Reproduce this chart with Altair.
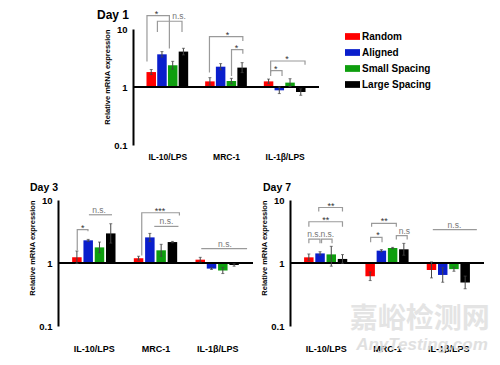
import json
import altair as alt
import pandas as pd

FONT = "Liberation Sans"

categories = ["IL-10/LPS", "MRC-1", "IL-1β/LPS"]
groups = ["Random", "Aligned", "Small Spacing", "Large Spacing"]
colors = ["#FF0000", "#0A1ECC", "#0E9E0E", "#000000"]

# values per category (rows) and group (columns)
day1_mean = [[1.81, 3.66, 2.37, 4.08], [1.25, 2.24, 1.27, 2.16], [1.25, 0.877, 1.19, 0.82]]
day1_lo = [[1.64, 3.28, 2.03, 3.58], [1.08, 1.98, 1.14, 1.77], [1.14, 0.77, 1.02, 0.72]]
day1_hi = [[2.00, 4.08, 2.77, 4.65], [1.45, 2.53, 1.41, 2.63], [1.37, 1.00, 1.39, 0.93]]

day3_mean = [[1.23, 2.29, 1.77, 2.95], [1.19, 2.55, 1.59, 2.15], [1.13, 0.815, 0.76, 0.93]]
day3_lo = [[0.98, 2.21, 1.46, 2.07], [1.11, 2.20, 1.28, 2.10], [1.04, 0.79, 0.68, 0.89]]
day3_hi = [[1.55, 2.37, 2.15, 4.20], [1.28, 2.95, 1.98, 2.20], [1.23, 0.84, 0.85, 0.97]]

day7_mean = [[1.23, 1.42, 1.37, 1.16], [0.616, 1.57, 1.73, 1.65], [0.775, 0.646, 0.80, 0.49]]
day7_lo = [[1.09, 1.34, 0.89, 0.99], [0.526, 1.51, 1.69, 1.33], [0.58, 0.495, 0.74, 0.39]]
day7_hi = [[1.39, 1.51, 1.84, 1.36], [0.72, 1.63, 1.77, 2.05], [1.04, 0.84, 0.86, 0.62]]

# significance brackets: (x left, x right, top, left leg end, right leg end, label, label x)
day1_brackets = [
    (-0.347, 0.035, 17.0, 2.74, 4.59, "*", -0.185),
    (-0.169, 0.25, 13.6, 8.9, 8.9, "n.s.", 0.2),
    (0.718, 1.287, 7.4, 1.77, 6.2, "*", 1.024),
    (1.094, 1.287, 4.41, 1.55, 3.76, "*", 1.18),
    (1.761, 2.347, 2.81, 1.77, 2.43, "*", 2.04),
    (1.761, 1.955, 1.92, 1.55, 1.55, "*", 1.85),
]
day3_brackets = [
    (-0.269, -0.095, 3.38, 1.59, 3.2, "*", -0.18),
    (-0.08, 0.295, 5.83, 5.83, 5.83, "n.s.", 0.085),
    (0.777, 1.388, 6.27, 1.32, 5.69, "***", 1.074),
    (0.98, 1.372, 3.81, 3.81, 3.81, "n.s.", 1.177),
    (1.742, 2.485, 1.69, 1.69, 1.69, "n.s.", 2.126),
]
day7_brackets = [
    (-0.113, 0.274, 7.6, 6.58, 6.58, "**", 0.088),
    (-0.274, 0.274, 4.52, 3.77, 3.77, "**", 0.0),
    (-0.274, -0.093, 2.4, 2.05, 2.05, "n.s.", -0.19),
    (-0.067, 0.104, 2.4, 2.05, 2.05, "n.s.", 0.026),
    (0.749, 1.152, 4.25, 3.77, 3.77, "**", 0.957),
    (0.733, 0.919, 2.55, 2.13, 2.13, "*", 0.853),
    (1.152, 1.329, 2.71, 2.35, 2.35, "n.s", 1.284),
    (1.747, 2.465, 3.38, 3.38, 3.38, "n.s.", 2.1),
]

watermark_text = ["嘉峪检测网", "AnyTesting.com"]
watermark_pos = [1.535, 1.57]
watermark_v = [0.124, 0.05]

SERIES_STEP = 0.183
label_expr = json.dumps(categories) + "[datum.value]"


def panel(title, title_dx, title_off, means, lows, highs, brackets, width, height,
          xl_size, xl_pad, legend=None, watermark=False):
    rows = []
    for i, cat in enumerate(categories):
        for j, g in enumerate(groups):
            rows.append(dict(cat=cat, group=g, pos=i + (j - 1.5) * SERIES_STEP,
                             v=means[i][j], lo=lows[i][j], hi=highs[i][j]))
    df = pd.DataFrame(rows)

    line_rows, text_rows = [], []
    for k, (xl, xr, top, yl, yr, lab, tx) in enumerate(brackets):
        for o, (p, v) in enumerate([(xl, yl), (xl, top), (xr, top), (xr, yr)]):
            line_rows.append(dict(bid=k, ord=o, pos=p, v=v))
        text_rows.append(dict(pos=tx, v=top, label=lab, star="*" in lab))
    ldf = pd.DataFrame(line_rows)
    tdf = pd.DataFrame(text_rows)

    xs = alt.Scale(domain=[-0.5, 2.5], nice=False, zero=False)
    xa = alt.Axis(values=[0, 1, 2], labelExpr=label_expr, domain=False, ticks=False,
                  grid=False, labelFontWeight="bold", labelFontSize=xl_size,
                  labelPadding=xl_pad, title=None, labelColor="black", labelFont=FONT)
    ys = alt.Scale(type="log", domain=[0.1, 10], nice=False)
    ya = alt.Axis(values=[0.1, 1, 10], format=".1~f", title="Relative mRNA expression",
                  titleAnchor="end", titleFontSize=7.5, titleFontWeight="bold",
                  titlePadding=2, titleColor="black", titleFont=FONT,
                  labelFontWeight="bold", labelFontSize=9.5, labelPadding=6,
                  labelColor="black", labelFont=FONT, ticks=False, grid=False,
                  domainColor="black", domainWidth=2)

    def X(f="pos"):
        return alt.X(f + ":Q", scale=xs, axis=xa)

    def Y(f="v"):
        return alt.Y(f + ":Q", scale=ys, axis=ya)

    bars = alt.Chart(df).mark_bar(size=9.5).encode(
        x=X(), y=Y(), y2=alt.datum(1),
        color=alt.Color("group:N", scale=alt.Scale(domain=groups, range=colors),
                        legend=legend),
    )
    base_line = alt.Chart(pd.DataFrame({"v": [1.0]})).mark_rule(
        color="black", strokeWidth=2).encode(y=Y())
    err = alt.Chart(df).mark_rule(color="#444444", strokeWidth=1).encode(
        x=X(), y=Y("lo"), y2="hi")
    cap_hi = alt.Chart(df).mark_tick(orient="horizontal", size=3, thickness=1,
                                     color="#444444").encode(x=X(), y=Y("hi"))
    cap_lo = alt.Chart(df).mark_tick(orient="horizontal", size=3, thickness=1,
                                     color="#444444").encode(x=X(), y=Y("lo"))
    brk = alt.Chart(ldf).mark_line(color="#9A9A9A", strokeWidth=1.2, clip=False).encode(
        x=X(), y=Y(), detail="bid:N", order="ord:Q")
    stars = alt.Chart(tdf[tdf["star"]]).mark_text(
        fontSize=9, color="#333333", baseline="alphabetic", dy=1, clip=False,
        font=FONT).encode(x=X(), y=Y(), text="label:N")
    ns = alt.Chart(tdf[~tdf["star"]]).mark_text(
        fontSize=8.5, color="#777777", baseline="alphabetic", dy=-2, clip=False,
        font=FONT).encode(x=X(), y=Y(), text="label:N")

    layers = [bars, base_line, err, cap_hi, cap_lo, brk, stars, ns]
    if watermark:
        wdf = pd.DataFrame({"pos": watermark_pos, "v": watermark_v, "label": watermark_text})
        w1 = alt.Chart(wdf.iloc[[0]]).mark_text(
            fontSize=28, font="Noto Sans CJK SC", fontWeight="bold", color="#E2E2E2",
            opacity=0.9, clip=False).encode(x=X(), y=Y(), text="label:N")
        w2 = alt.Chart(wdf.iloc[[1]]).mark_text(
            fontSize=17, font=FONT, fontStyle="italic", fontWeight="bold",
            color="#DDDDDD", opacity=0.9, clip=False).encode(x=X(), y=Y(), text="label:N")
        layers += [w1, w2]

    return alt.layer(*layers).properties(
        width=width, height=height,
        title=alt.TitleParams(text=title, anchor="start", frame="group", dx=title_dx,
                              offset=title_off,
                              fontSize=12 if title == "Day 1" else 10.5,
                              fontWeight="bold", font=FONT, color="black"),
    )


legend1 = alt.Legend(orient="none", legendX=212, legendY=0, title=None,
                     symbolType="M-1,-0.45H1V0.45H-1Z", symbolSize=225,
                     symbolStrokeWidth=0, symbolOpacity=1, labelFontSize=10,
                     labelFontWeight="bold", labelColor="black", labelFont=FONT,
                     rowPadding=3, labelOffset=2)

day1 = panel("Day 1", -36, -12, day1_mean, day1_lo, day1_hi, day1_brackets,
             186, 116, 8.5, 7, legend=legend1)
day3 = panel("Day 3", -28, 1.5, day3_mean, day3_lo, day3_hi, day3_brackets,
             195, 126, 9, 18)
day7 = panel("Day 7", -27, 1.5, day7_mean, day7_lo, day7_hi, day7_brackets,
             194, 126, 9, 18, watermark=True)

spacer = alt.Chart(pd.DataFrame({"v": [1]})).mark_text(text="").encode(
    x=alt.value(0), y=alt.value(0)).properties(width=39, height=116)

top = alt.hconcat(spacer, day1, spacing=0).resolve_scale(color="independent")
bottom = alt.hconcat(day3, day7, spacing=6).resolve_scale(color="independent")
chart = alt.vconcat(top, bottom, spacing=22).resolve_scale(
    color="independent").properties(
    padding={"left": 20, "top": 0, "right": 0, "bottom": 0}
).configure(font=FONT).configure_view(stroke=None)

chart.save("out.html", embed_options={"renderer": "svg", "actions": False})
